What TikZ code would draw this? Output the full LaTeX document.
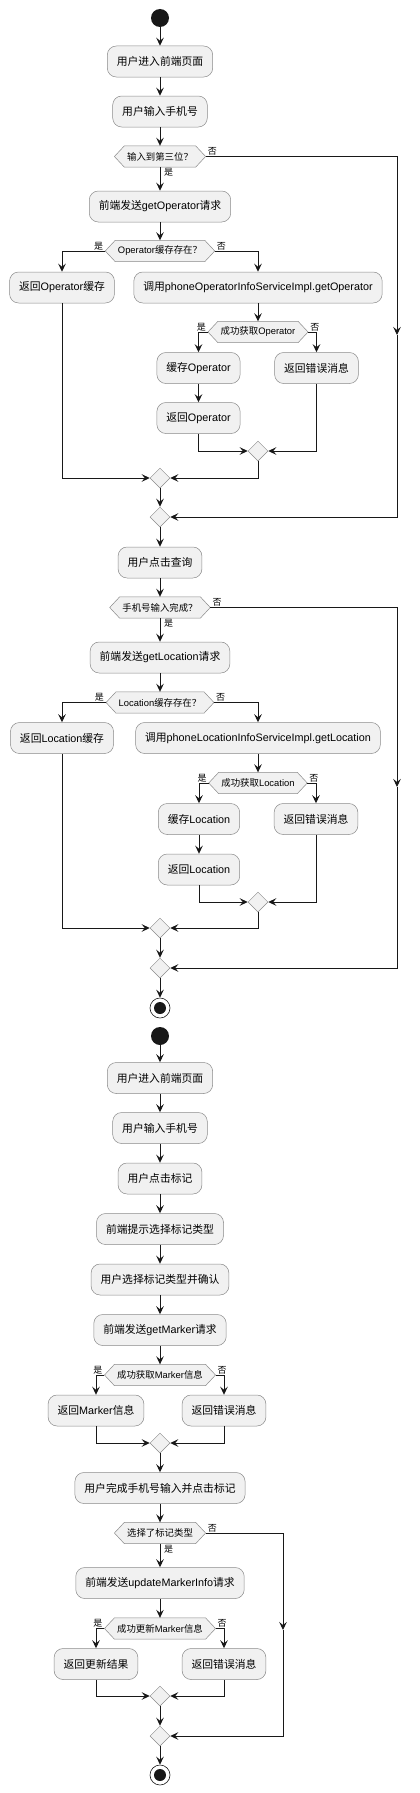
\documentclass[tikz,border=0pt]{standalone}
\usepackage{fontspec}
\setmainfont{Liberation Sans}
\newfontfamily\cjkf{Noto Sans CJK SC}
\usetikzlibrary{arrows.meta,shapes.geometric}
\newcommand{\zh}[1]{{\cjkf #1}}
\pgfdeclarelayer{bottom}
\pgfdeclarelayer{bg}
\pgfsetlayers{bottom,bg,main}
\definecolor{lineC}{HTML}{181818}
\definecolor{fillC}{HTML}{F1F1F1}
\definecolor{borderC}{HTML}{8A8A8A}
\tikzset{
  flow/.style={draw=lineC,line width=0.9pt,-{Stealth[length=8pt,width=7.5pt,inset=3pt]}},
  act/.style={draw=borderC,fill=fillC,line width=0.5pt,rounded corners=9pt,minimum height=31pt,inner xsep=9.5pt,inner ysep=0pt,font=\fontsize{10.8}{13}\selectfont},
  hexnode/.style={inner xsep=12.5pt,inner ysep=0pt,minimum height=21pt,font=\fontsize{9.4}{11}\selectfont},
  hexline/.style={draw=borderC,fill=fillC,line width=0.5pt},
  merge/.style={diamond,draw=borderC,fill=fillC,line width=0.5pt,minimum width=20pt,minimum height=20pt,inner sep=0pt,aspect=1},
  startn/.style={circle,fill=lineC,minimum size=18pt,inner sep=0pt},
  endn/.style={circle,draw=lineC,fill=white,line width=0.6pt,minimum size=20pt,inner sep=0pt,
    path picture={\fill[lineC] (path picture bounding box.center) circle (6pt);}},
  lab/.style={font=\fontsize{9}{10}\selectfont\cjkf,inner sep=1pt}
}
\newcommand{\hexdraw}[1]{\begin{pgfonlayer}{bg}\path[hexline] ([xshift=10pt]#1.north west) -- ([xshift=-10pt]#1.north east) -- (#1.east) -- ([xshift=-10pt]#1.south east) -- ([xshift=10pt]#1.south west) -- (#1.west) -- cycle;\end{pgfonlayer}}
\begin{document}
\begin{tikzpicture}[x=1pt,y=-1pt]
\useasboundingbox (0,0) rectangle (420,1793);
\begin{pgfonlayer}{bottom}\fill[white] (0,0) rectangle (420,1793);\end{pgfonlayer}
% ---------- part 1 ----------
\node[startn] (s1) at (160,18) {};
\node[act] (a1) at (160,61.5) {\zh{用户进入前端页面}};
\node[act] (a2) at (160,111.5) {\zh{用户输入手机号}};
\node[hexnode] (d1) at (160,156.5) {\zh{输入到第三位？}}; \hexdraw{d1}
\node[act] (a3) at (160,206.5) {\zh{前端发送}getOperator\zh{请求}};
\node[hexnode] (d2) at (160,251) {Operator\zh{缓存存在？}}; \hexdraw{d2}
\node[act] (a4) at (62,287.5) {\zh{返回}Operator\zh{缓存}};
\node[act] (a5) at (258,287.5) {\zh{调用}phoneOperatorInfoServiceImpl.getOperator};
\node[hexnode] (d3) at (258,332) {\zh{成功获取}Operator}; \hexdraw{d3}
\node[act] (a6) at (198.5,368) {\zh{缓存}Operator};
\node[act] (a7) at (316.5,368) {\zh{返回错误消息}};
\node[act] (a8) at (198.5,418) {\zh{返回}Operator};
\node[merge] (m1) at (258,451) {};
\node[merge] (m2) at (160,478) {};
\node[merge] (m3) at (160,517) {};
\coordinate (r1) at (397,335);
\draw[flow] (s1) -- (a1);
\draw[flow] (a1) -- (a2);
\draw[flow] (a2) -- (d1);
\draw[flow] (d1) -- (a3);
\draw[flow] (a3) -- (d2);
\draw[flow] (d2.west) -| (a4.north);
\draw[flow] (d2.east) -| (a5.north);
\draw[flow] (a5) -- (d3);
\draw[flow] (d3.west) -| (a6.north);
\draw[flow] (d3.east) -| (a7.north);
\draw[flow] (a6) -- (a8);
\draw[flow] (a8.south) |- (m1.west);
\draw[flow] (a7.south) |- (m1.east);
\draw[flow] (a4.south) |- (m2.west);
\draw[flow] (m1.south) |- (m2.east);
\draw[flow] (m2) -- (m3);
\draw[flow] (d1.east) -| (r1);
\draw[flow] (r1) |- (m3.east);
\node[lab,anchor=south west] (l1) at ([xshift=1pt]d1.east) {否};
\node[lab,anchor=north west] (l2) at ([xshift=3pt]d1.south) {是};
\node[lab,anchor=south east] (l3) at ([xshift=-1pt]d2.west) {是};
\node[lab,anchor=south west] (l4) at ([xshift=1pt]d2.east) {否};
\node[lab,anchor=south east] (l5) at ([xshift=-1pt]d3.west) {是};
\node[lab,anchor=south west] (l6) at ([xshift=1pt]d3.east) {否};
% ---------- part 2 ----------
\node[act] (b1) at (160,562.5) {\zh{用户点击查询}};
\node[hexnode] (e1) at (160,607.5) {\zh{手机号输入完成？}}; \hexdraw{e1}
\node[act] (b2) at (160,657.5) {\zh{前端发送}getLocation\zh{请求}};
\node[hexnode] (e2) at (160,702.5) {Location\zh{缓存存在？}}; \hexdraw{e2}
\node[act] (b3) at (62,738) {\zh{返回}Location\zh{缓存}};
\node[act] (b4) at (258,738) {\zh{调用}phoneLocationInfoServiceImpl.getLocation};
\node[hexnode] (e3) at (258,783) {\zh{成功获取}Location}; \hexdraw{e3}
\node[act] (b5) at (199,819) {\zh{缓存}Location};
\node[act] (b6) at (316,819) {\zh{返回错误消息}};
\node[act] (b7) at (199,869.5) {\zh{返回}Location};
\node[merge] (n1) at (258,902) {};
\node[merge] (n2) at (160,928) {};
\node[merge] (n3) at (160,968) {};
\node[endn] (t1) at (160,1008) {};
\coordinate (r2) at (397,787);
\draw[flow] (m3) -- (b1);
\draw[flow] (b1) -- (e1);
\draw[flow] (e1) -- (b2);
\draw[flow] (b2) -- (e2);
\draw[flow] (e2.west) -| (b3.north);
\draw[flow] (e2.east) -| (b4.north);
\draw[flow] (b4) -- (e3);
\draw[flow] (e3.west) -| (b5.north);
\draw[flow] (e3.east) -| (b6.north);
\draw[flow] (b5) -- (b7);
\draw[flow] (b7.south) |- (n1.west);
\draw[flow] (b6.south) |- (n1.east);
\draw[flow] (b3.south) |- (n2.west);
\draw[flow] (n1.south) |- (n2.east);
\draw[flow] (n2) -- (n3);
\draw[flow] (e1.east) -| (r2);
\draw[flow] (r2) |- (n3.east);
\draw[flow] (n3) -- (t1);
\node[lab,anchor=south west] (k1) at ([xshift=1pt]e1.east) {否};
\node[lab,anchor=north west] (k2) at ([xshift=3pt]e1.south) {是};
\node[lab,anchor=south east] (k3) at ([xshift=-1pt]e2.west) {是};
\node[lab,anchor=south west] (k4) at ([xshift=1pt]e2.east) {否};
\node[lab,anchor=south east] (k5) at ([xshift=-1pt]e3.west) {是};
\node[lab,anchor=south west] (k6) at ([xshift=1pt]e3.east) {否};
% ---------- part 3 ----------
\node[startn] (s2) at (160,1036) {};
\node[act] (c1) at (160,1078) {\zh{用户进入前端页面}};
\node[act] (c2) at (160,1128) {\zh{用户输入手机号}};
\node[act] (c3) at (160,1178.5) {\zh{用户点击标记}};
\node[act] (c4) at (160,1229) {\zh{前端提示选择标记类型}};
\node[act] (c5) at (160,1279.5) {\zh{用户选择标记类型并确认}};
\node[act] (c6) at (160,1330) {\zh{前端发送}getMarker\zh{请求}};
\node[hexnode] (f1) at (160,1375) {\zh{成功获取}Marker\zh{信息}}; \hexdraw{f1}
\node[act] (c7) at (96,1410.5) {\zh{返回}Marker\zh{信息}};
\node[act] (c8) at (224,1410.5) {\zh{返回错误消息}};
\node[merge] (p1) at (160,1443) {};
\node[act] (c9) at (160,1488) {\zh{用户完成手机号输入并点击标记}};
\node[hexnode] (f2) at (160,1533) {\zh{选择了标记类型}}; \hexdraw{f2}
\node[act] (c10) at (160,1583) {\zh{前端发送}updateMarkerInfo\zh{请求}};
\node[hexnode] (f3) at (160,1628.5) {\zh{成功更新}Marker\zh{信息}}; \hexdraw{f3}
\node[act] (c11) at (96,1664) {\zh{返回更新结果}};
\node[act] (c12) at (224,1664) {\zh{返回错误消息}};
\node[merge] (p2) at (160,1696) {};
\node[merge] (p3) at (160,1736) {};
\node[endn] (t2) at (160,1775) {};
\coordinate (r3) at (283,1630);
\draw[flow] (s2) -- (c1);
\draw[flow] (c1) -- (c2);
\draw[flow] (c2) -- (c3);
\draw[flow] (c3) -- (c4);
\draw[flow] (c4) -- (c5);
\draw[flow] (c5) -- (c6);
\draw[flow] (c6) -- (f1);
\draw[flow] (f1.west) -| (c7.north);
\draw[flow] (f1.east) -| (c8.north);
\draw[flow] (c7.south) |- (p1.west);
\draw[flow] (c8.south) |- (p1.east);
\draw[flow] (p1) -- (c9);
\draw[flow] (c9) -- (f2);
\draw[flow] (f2) -- (c10);
\draw[flow] (c10) -- (f3);
\draw[flow] (f3.west) -| (c11.north);
\draw[flow] (f3.east) -| (c12.north);
\draw[flow] (c11.south) |- (p2.west);
\draw[flow] (c12.south) |- (p2.east);
\draw[flow] (p2) -- (p3);
\draw[flow] (f2.east) -| (r3);
\draw[flow] (r3) |- (p3.east);
\draw[flow] (p3) -- (t2);
\node[lab,anchor=south east] (j1) at ([xshift=-1pt]f1.west) {是};
\node[lab,anchor=south west] (j2) at ([xshift=1pt]f1.east) {否};
\node[lab,anchor=south west] (j3) at ([xshift=1pt]f2.east) {否};
\node[lab,anchor=north west] (j4) at ([xshift=3pt]f2.south) {是};
\node[lab,anchor=south east] (j5) at ([xshift=-1pt]f3.west) {是};
\node[lab,anchor=south west] (j6) at ([xshift=1pt]f3.east) {否};
\end{tikzpicture}
\end{document}
